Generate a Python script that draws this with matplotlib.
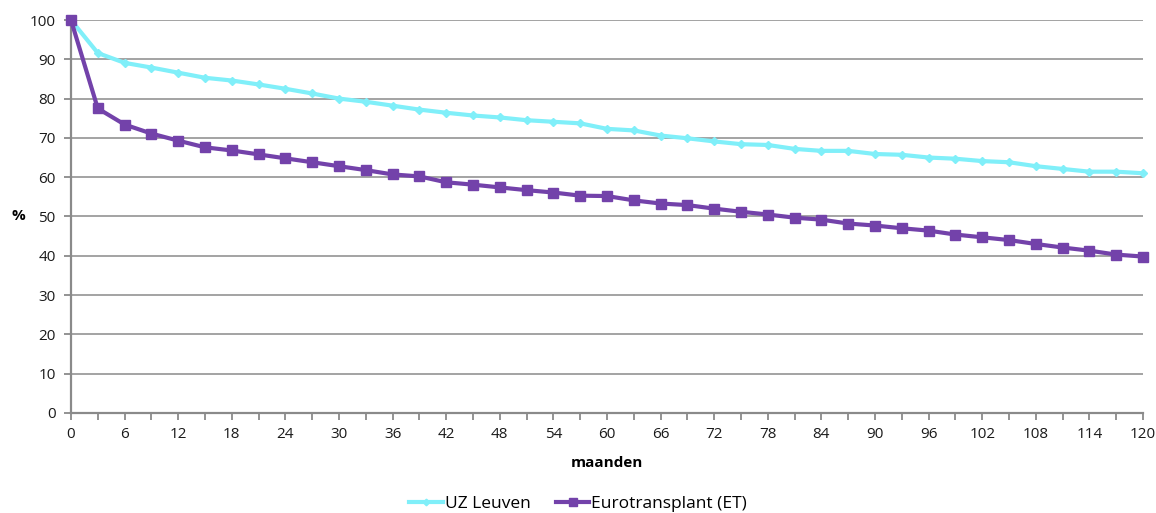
import matplotlib
matplotlib.use("Agg")
import matplotlib.pyplot as plt
from matplotlib.ticker import MultipleLocator

plt.rcParams['font.family'] = ['Open Sans', 'DejaVu Sans']

months = list(range(0, 121, 3))

uz_leuven = [100, 91.6, 89.1, 87.9, 86.6, 85.3, 84.6, 83.6, 82.5, 81.3,
             80.0, 79.2, 78.2, 77.2, 76.4, 75.7, 75.2, 74.5, 74.1, 73.7,
             72.3, 71.9, 70.6, 69.9, 69.1, 68.4, 68.2, 67.2, 66.7, 66.7,
             65.9, 65.7, 65.0, 64.7, 64.1, 63.8, 62.8, 62.1, 61.4, 61.4,
             61.0]

eurotransplant = [100, 77.5, 73.4, 71.1, 69.3, 67.6, 66.8, 65.8, 64.8, 63.8,
                  62.8, 61.8, 60.7, 60.2, 58.7, 58.1, 57.4, 56.7, 56.1, 55.3,
                  55.2, 54.1, 53.3, 52.9, 52.0, 51.2, 50.5, 49.7, 49.2, 48.2,
                  47.7, 47.0, 46.4, 45.4, 44.7, 44.0, 43.0, 42.1, 41.3, 40.3,
                  39.8]

series_labels = ["UZ Leuven", "Eurotransplant (ET)"]
x_label = "maanden"
y_label = "%"

cyan = "#80eff9"
purple = "#7342aa"
grid_gray = "#9c9c9c"

fig = plt.figure(figsize=(11.56, 5.13), dpi=100)
ax = fig.add_axes([0.0614, 0.195, 0.9274, 0.766])

ax.plot(months, uz_leuven, color=cyan, lw=3, marker="D", ms=4.5,
        mec=cyan, mfc=cyan, label=series_labels[0], zorder=3, clip_on=False)
ax.plot(months, eurotransplant, color=purple, lw=3, marker="s", ms=7.5,
        mec=purple, mfc=purple, label=series_labels[1], zorder=4, clip_on=False)

ax.set_xlim(0, 120)
ax.set_ylim(0, 100)
ax.xaxis.set_major_locator(MultipleLocator(6))
ax.xaxis.set_minor_locator(MultipleLocator(3))
ax.yaxis.set_major_locator(MultipleLocator(10))

ax.grid(axis="y", color=grid_gray, lw=1.3, zorder=0)
ax.set_axisbelow(True)
for side in ("top", "right"):
    ax.spines[side].set_visible(False)
for side in ("left", "bottom"):
    ax.spines[side].set_color("#8a8a8a")
    ax.spines[side].set_linewidth(1.6)

ax.tick_params(axis="both", which="both", color="#8a8a8a", width=1.3,
               labelsize=11, labelcolor="#1a1a1a")
ax.tick_params(axis="x", which="both", length=5, pad=5)
ax.tick_params(axis="y", which="major", length=5, pad=6)

ax.set_xlabel(x_label, fontsize=11, fontweight="bold", labelpad=10)
fig.text(0.0155, 0.578, y_label, fontsize=11, fontweight="bold",
         ha="center", va="center")

fig.legend(loc="lower center", bbox_to_anchor=(0.5, -0.028), ncol=2,
           frameon=False, fontsize=12.5, handlelength=1.95, columnspacing=1.45,
           handletextpad=0.08, markerscale=0.75)

fig.savefig("out.png", dpi=100, facecolor="white")
